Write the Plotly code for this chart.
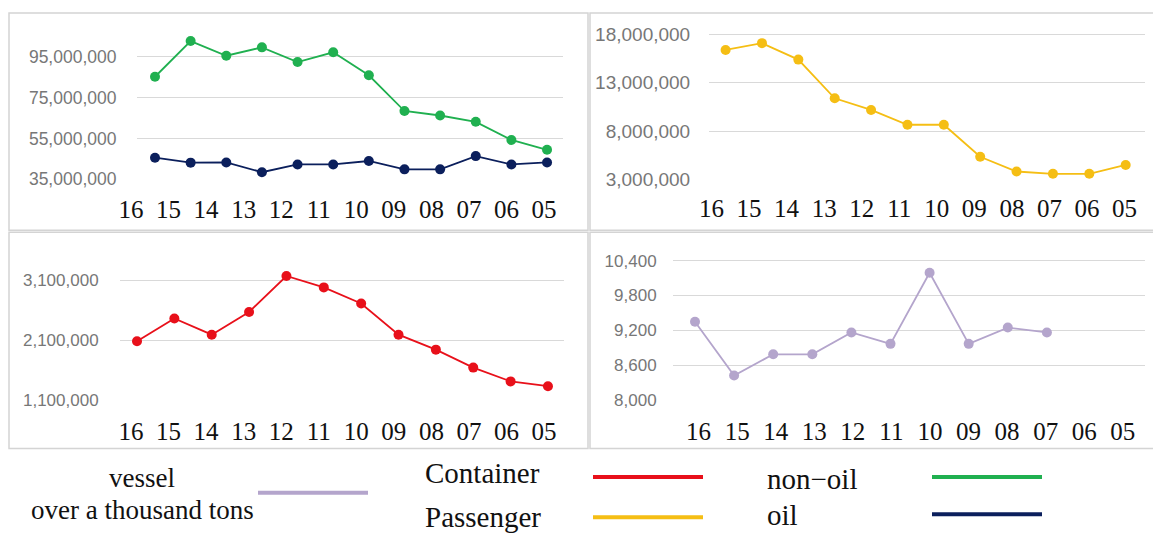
import plotly.graph_objects as go

# ---- data ----
years = ["16", "15", "14", "13", "12", "11", "10", "09", "08", "07", "06", "05"]
non_oil = [85.3e6, 102.8e6, 95.6e6, 99.7e6, 92.5e6, 97.3e6, 86.0e6, 68.5e6, 66.3e6, 63.2e6, 54.3e6, 49.5e6]
oil = [45.6e6, 43.2e6, 43.3e6, 38.5e6, 42.3e6, 42.3e6, 44.0e6, 39.9e6, 39.9e6, 46.4e6, 42.3e6, 43.3e6]
passenger = [16.4e6, 17.1e6, 15.4e6, 11.4e6, 10.2e6, 8.67e6, 8.67e6, 5.36e6, 3.84e6, 3.6e6, 3.6e6, 4.52e6]
container = [2.08e6, 2.46e6, 2.19e6, 2.57e6, 3.17e6, 2.98e6, 2.71e6, 2.19e6, 1.94e6, 1.64e6, 1.41e6, 1.33e6]
vessel = [9351, 8426, 8791, 8791, 9166, 8970, 10192, 8970, 9250, 9166]

tl_ticks = [35e6, 55e6, 75e6, 95e6]
tr_ticks = [3e6, 8e6, 13e6, 18e6]
bl_ticks = [1.1e6, 2.1e6, 3.1e6]
br_ticks = [8000, 8600, 9200, 9800, 10400]

# ---- styling ----
OFF = 8                      # page body margin
W, H = 1161 - OFF, 543 - 2 * OFF
C_GREEN = "#20B050"
C_NAVY = "#0B1F5C"
C_YELLOW = "#F5BE14"
C_RED = "#E8101A"
C_LAV = "#B4A5CC"
GRID = "#D9D9D9"
FRAME = "#D4D4D4"
YTICK_COL = "#777777"
SERIF = "Liberation Serif, Times New Roman, serif"
SANS = "Liberation Sans, Arial, sans-serif"


def px_x(p):
    return (p - OFF) / W


def px_y(p):
    return 1 - (p - OFF) / H


fig = go.Figure()

# geometry of each panel in page pixels
panels = [
    dict(ax="", lab="5", xd=(137, 563), yd=(25, 183.0), p0=155, dp=35.64, l0=131, dl=37.55,
         yr=(35e6, 35e6 + (183.0 - 25) * 60e6 / 125), yt=tl_ticks, gap=16, yfs=17.5, xlen=8),
    dict(ax="2", lab="6", xd=(709, 1145), yd=(25, 183.3), p0=725.6, dp=36.37, l0=711.5, dl=37.55,
         yr=(3e6, 3e6 + (183.3 - 25) * 15e6 / 148.3), yt=tr_ticks, gap=14, yfs=19, xlen=6),
    dict(ax="3", lab="7", xd=(120, 564), yd=(255, 408.3), p0=137, dp=37.36, l0=131, dl=37.55,
         yr=(1.1e6, 1.1e6 + (408.3 - 255) * 2e6 / 122.3), yt=bl_ticks, gap=17, yfs=17, xlen=9),
    dict(ax="4", lab="8", xd=(673, 1145), yd=(255, 408.7), p0=695, dp=39.1, l0=698.6, dl=38.56,
         yr=(8000, 8000 + (408.7 - 255) * 2400 / 142.7), yt=br_ticks, gap=12, yfs=17, xlen=9),
]

series = [
    (0, non_oil, C_GREEN, "non-oil"),
    (0, oil, C_NAVY, "oil"),
    (1, passenger, C_YELLOW, "Passenger"),
    (2, container, C_RED, "Container"),
    (3, vessel, C_LAV, "vessel over a thousand tons"),
]

for pi, vals, col, name in series:
    ax = panels[pi]["ax"]
    fig.add_trace(go.Scatter(
        x=list(range(len(vals))), y=vals, mode="lines+markers", name=name,
        line=dict(color=col, width=1.8), marker=dict(color=col, size=10),
        xaxis="x" + ax, yaxis="y" + ax, showlegend=False, cliponaxis=False,
    ))

# empty traces so that the separate category-label axes (own hidden y axes) get drawn
for p in panels:
    fig.add_trace(go.Scatter(x=[], y=[], mode="markers", showlegend=False, hoverinfo="skip",
                             xaxis="x" + p["lab"], yaxis="y" + p["lab"]))

layout = dict(
    width=W, height=H, margin=dict(l=0, r=0, t=0, b=0),
    paper_bgcolor="white", plot_bgcolor="rgba(0,0,0,0)", showlegend=False,
)

for p in panels:
    ax = p["ax"]
    x0, x1 = p["xd"]
    ydom = [px_y(p["yd"][1]), px_y(p["yd"][0])]
    xr = ((x0 - p["p0"]) / p["dp"], (x1 - p["p0"]) / p["dp"])
    layout["xaxis" + ax] = dict(
        domain=[px_x(x0), px_x(x1)], range=list(xr), anchor="y" + ax,
        showticklabels=False, ticks="", showgrid=False, zeroline=False, showline=False,
    )
    layout["yaxis" + ax] = dict(
        domain=ydom, range=list(p["yr"]),
        anchor="x" + ax, tickmode="array", tickvals=p["yt"], tickformat=",d",
        showgrid=True, gridcolor=GRID, gridwidth=1.2, zeroline=False, showline=False,
        ticks="outside", ticklen=p["gap"], tickcolor="rgba(0,0,0,0)",
        tickfont=dict(family=SANS, size=p["yfs"], color=YTICK_COL),
    )
    # category label row: same x scale, domain widened to the left so every label fits
    lx0 = x0 - 30
    lr = ((lx0 - p["p0"]) / p["dp"], (x1 - p["p0"]) / p["dp"])
    tickvals = [(p["l0"] + k * p["dl"] - p["p0"]) / p["dp"] for k in range(len(years))]
    layout["xaxis" + p["lab"]] = dict(
        domain=[px_x(lx0), px_x(x1)], range=list(lr),
        anchor="y" + p["lab"], tickmode="array", tickvals=tickvals, ticktext=years,
        showgrid=False, zeroline=False, showline=False,
        ticks="outside", ticklen=p["xlen"], tickcolor="rgba(0,0,0,0)",
        tickfont=dict(family=SERIF, size=25, color="#111111"),
    )
    layout["yaxis" + p["lab"]] = dict(
        domain=ydom, range=[0, 1], anchor="x" + p["lab"], visible=False,
        showgrid=False, zeroline=False, showline=False, showticklabels=False,
    )

fig.update_layout(**layout)

shapes = []
for (x0, y0, x1, y1) in [(9, 13, 588, 235), (590, 13, 1160, 235), (9, 237, 588, 458), (590, 237, 1160, 458)]:
    shapes.append(dict(type="rect", xref="paper", yref="paper",
                       x0=px_x(x0), x1=px_x(x1), y0=px_y(y1), y1=px_y(y0),
                       line=dict(color=FRAME, width=1.5), fillcolor="rgba(0,0,0,0)", layer="below"))

for (x0, x1, y, col) in [(258, 368, 503, C_LAV), (593, 703, 487, C_RED), (593, 703, 528, C_YELLOW),
                         (932, 1042, 487, C_GREEN), (932, 1042, 525, C_NAVY)]:
    shapes.append(dict(type="line", xref="paper", yref="paper",
                       x0=px_x(x0), x1=px_x(x1), y0=px_y(y), y1=px_y(y),
                       line=dict(color=col, width=4)))
fig.update_layout(shapes=shapes)

annots = [
    ("vessel", 142, 488, "center", 27),
    ("over a thousand tons", 142, 521, "center", 27),
    ("Container", 423, 483, "left", 29),
    ("Passenger", 423, 528, "left", 29),
    ("non\u2212oil", 765, 489, "left", 29),
    ("oil", 765, 526, "left", 29),
]
for text, x, y, anchor, size in annots:
    fig.add_annotation(text=text, x=px_x(x), y=px_y(y), xref="paper", yref="paper",
                       xanchor=anchor, yanchor="middle", showarrow=False,
                       font=dict(family=SERIF, size=size, color="#111111"))

fig.write_html("out.html")
